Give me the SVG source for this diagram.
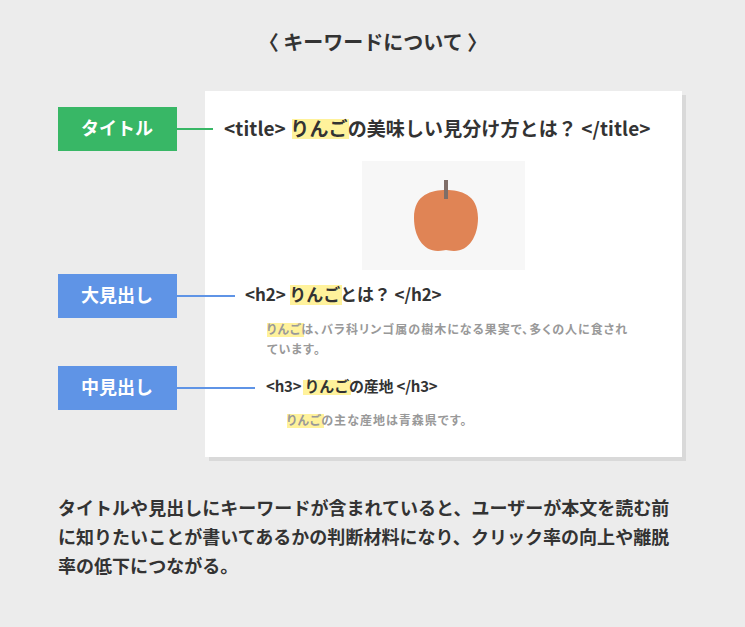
<svg xmlns="http://www.w3.org/2000/svg" width="745" height="627" viewBox="0 0 745 627">
<style>
text{font-family:"Noto Sans CJK JP","Noto Sans",sans-serif;font-weight:700;fill:#333}
.lbl{fill:#fff;font-size:18px;text-anchor:middle}
.hl{fill:#fff29b}
.gr{fill:#999;font-size:12px;letter-spacing:1.02px;font-feature-settings:"palt"}
.b{font-size:18px;fill:#333;letter-spacing:.03px}
</style>
<rect width="745" height="627" fill="#ececec"/>
<text x="373" y="50" font-size="20" text-anchor="middle" xml:space="preserve">〈 キーワードについて 〉</text>
<g id="page">
<rect x="209" y="95" width="477" height="366" fill="#d9d9d9"/>
<rect x="205" y="91" width="477" height="366" fill="#fff"/>
</g>
<g id="connectors">
<line x1="177" y1="129" x2="213" y2="129" stroke="#38b766" stroke-width="2"/>
<line x1="177" y1="296" x2="235" y2="296" stroke="#5f94e6" stroke-width="2"/>
<line x1="177" y1="388" x2="255" y2="388" stroke="#5f94e6" stroke-width="2"/>
</g>
<g id="node-title"><rect x="58" y="107" width="119" height="44" fill="#38b766"/><text class="lbl" x="117" y="135">タイトル</text></g>
<g id="node-h2"><rect x="58" y="274" width="119" height="44" fill="#5f94e6"/><text class="lbl" x="117" y="302">大見出し</text></g>
<g id="node-h3"><rect x="58" y="366" width="119" height="44" fill="#5f94e6"/><text class="lbl" x="117" y="394">中見出し</text></g>
<g id="title-line">
<rect class="hl" x="292" y="119" width="57" height="20"/>
<text x="224" y="136" font-size="19" letter-spacing=".1">&lt;title&gt; りんごの美味しい見分け方とは？ &lt;/title&gt;</text>
</g>
<g id="apple">
<rect x="362" y="161" width="163" height="109" fill="#f7f7f7"/>
<path d="M446 190C432 190 414 194 414 218C414 236 423 251 438 251C442 251 444 250 446 250C448 250 450 251 454 251C469 251 478 236 478 218C478 194 460 190 446 190Z" fill="#e08455"/>
<rect x="444" y="180" width="4" height="19" fill="#7f6e68"/>
</g>
<g id="h2-block">
<rect class="hl" x="290" y="285" width="52" height="20"/>
<text x="245" y="301" font-size="17" letter-spacing="-.1">&lt;h2&gt; りんごとは？ &lt;/h2&gt;</text>
<rect class="hl" x="267" y="323" width="37" height="14"/>
<text class="gr" x="267" y="334">りんごは、バラ科リンゴ属の樹木になる果実で、多くの人に食され</text>
<text class="gr" x="267" y="354">ています。</text>
</g>
<g id="h3-block">
<rect class="hl" x="303" y="380" width="48" height="15"/>
<text x="266" y="392" font-size="15" letter-spacing="-.2">&lt;h3&gt; りんごの産地 &lt;/h3&gt;</text>
<rect class="hl" x="287" y="414" width="37" height="14"/>
<text class="gr" x="287" y="425">りんごの主な産地は青森県です。</text>
</g>
<g id="caption">
<text class="b" x="58" y="515">タイトルや見出しにキーワードが含まれていると、ユーザーが本文を読む前</text>
<text class="b" x="58" y="544">に知りたいことが書いてあるかの判断材料になり、クリック率の向上や離脱</text>
<text class="b" x="58" y="573">率の低下につながる。</text>
</g>
</svg>
